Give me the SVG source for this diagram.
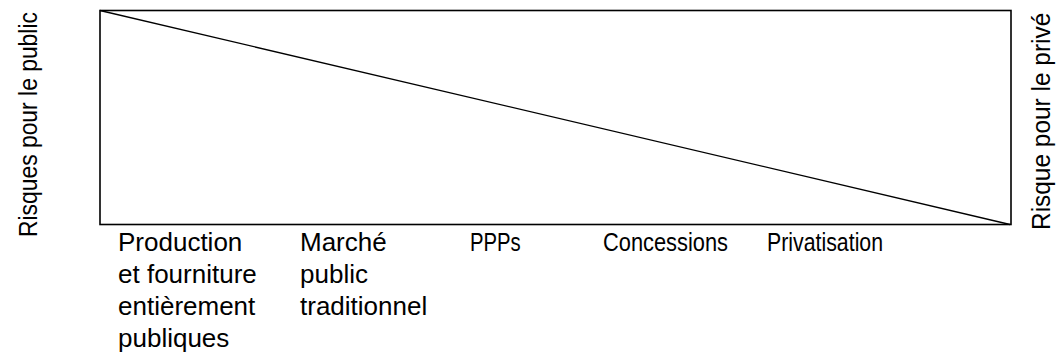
<svg xmlns="http://www.w3.org/2000/svg" width="1062" height="361" viewBox="0 0 1062 361">
  <style>
    .lbl { font-family: "Liberation Sans", Arial, sans-serif; font-size: 26px; fill: #000; }
    .frame { fill: none; stroke: #000; stroke-width: 1.6; }
    .diag { fill: none; stroke: #000; stroke-width: 1.3; }
  </style>
  <rect width="1062" height="361" fill="#fff"/>

  <!-- risk frame and the dividing diagonal -->
  <g id="frame">
    <rect class="frame" x="100" y="10.5" width="911" height="214"/>
  </g>
  <g id="connectors">
    <line class="diag" x1="100" y1="10.5" x2="1010" y2="224.5"/>
  </g>

  <!-- side axis labels (slightly condensed along the reading direction) -->
  <g id="label-public">
    <text class="lbl" transform="translate(37,237) rotate(-90) scale(0.88,1)">Risques pour le public</text>
  </g>
  <g id="label-prive">
    <text class="lbl" transform="translate(1050,230) rotate(-90) scale(0.94,1)">Risque pour le privé</text>
  </g>

  <!-- categories along the bottom -->
  <g id="cat-production">
    <text class="lbl" x="118" y="251">Production</text>
    <text class="lbl" x="118" y="283">et fourniture</text>
    <text class="lbl" x="118" y="315">entièrement</text>
    <text class="lbl" x="118" y="347">publiques</text>
  </g>
  <g id="cat-marche">
    <text class="lbl" x="300" y="251">Marché</text>
    <text class="lbl" x="300" y="283">public</text>
    <text class="lbl" x="300" y="315">traditionnel</text>
  </g>
  <g id="cat-ppp">
    <text class="lbl" transform="translate(470,251) scale(0.78,1)">PPPs</text>
  </g>
  <g id="cat-concessions">
    <text class="lbl" transform="translate(603,251) scale(0.84,1)">Concessions</text>
  </g>
  <g id="cat-privatisation">
    <text class="lbl" transform="translate(767,251) scale(0.82,1)">Privatisation</text>
  </g>
</svg>
